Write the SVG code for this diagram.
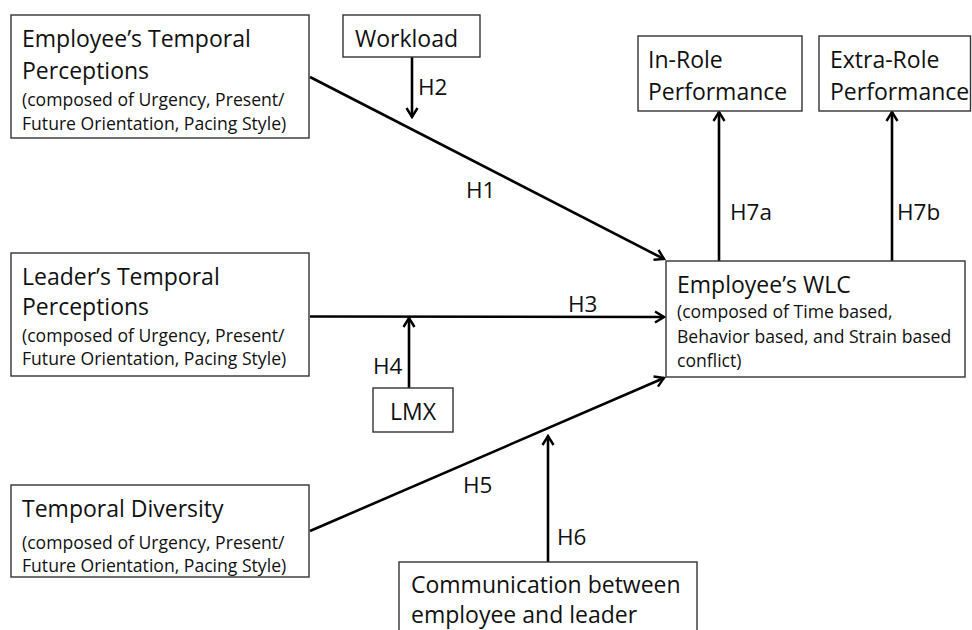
<svg xmlns="http://www.w3.org/2000/svg" width="972" height="630" viewBox="0 0 972 630">
<defs>
<style>
.box{fill:#fff;stroke:#333;stroke-width:1.4}
.big{font-family:"Open Sans","Liberation Sans",sans-serif;font-size:23px;fill:#111}
.small{font-family:"Open Sans","Liberation Sans",sans-serif;font-size:17.6px;fill:#111}
.lbl{font-family:"Open Sans","Liberation Sans",sans-serif;font-size:22.5px;fill:#111}
.conn{stroke:#000;stroke-width:2.6;fill:none;marker-end:url(#arr)}
</style>
<marker id="arr" viewBox="0 0 14 14" refX="12" refY="7" markerWidth="14" markerHeight="14" markerUnits="userSpaceOnUse" orient="auto">
<path d="M3,1.5 L12,7 L3,12.5" fill="none" stroke="#000" stroke-width="2.4"/>
</marker>
</defs>
<rect width="972" height="630" fill="#fff"/>
<g id="connectors">
<line class="conn" x1="310" y1="77" x2="664" y2="259"/>
<line class="conn" x1="412" y1="57" x2="412" y2="117"/>
<line class="conn" x1="310" y1="316.5" x2="664" y2="317"/>
<line class="conn" x1="409" y1="388" x2="409" y2="318"/>
<line class="conn" x1="310" y1="531" x2="664" y2="378"/>
<line class="conn" x1="548" y1="562" x2="548" y2="436"/>
<line class="conn" x1="719" y1="261" x2="719" y2="112"/>
<line class="conn" x1="892" y1="261" x2="892" y2="112"/>
<text class="lbl" x="418" y="95">H2</text>
<text class="lbl" x="466" y="198">H1</text>
<text class="lbl" x="568" y="312">H3</text>
<text class="lbl" x="373" y="374">H4</text>
<text class="lbl" x="463" y="493">H5</text>
<text class="lbl" x="557" y="545">H6</text>
<text class="lbl" x="730" y="220">H7a</text>
<text class="lbl" x="897" y="220">H7b</text>
</g>
<g id="emp-temporal">
<rect class="box" x="11" y="15" width="298" height="123"/>
<text class="big" x="22" y="47">Employee’s Temporal</text>
<text class="big" x="22" y="79">Perceptions</text>
<text class="small" x="22" y="106">(composed of Urgency, Present/</text>
<text class="small" x="22" y="130">Future Orientation, Pacing Style)</text>
</g>
<g id="workload">
<rect class="box" x="343" y="15" width="137" height="42"/>
<text class="big" x="355" y="47">Workload</text>
</g>
<g id="in-role">
<rect class="box" x="638" y="36" width="164" height="75"/>
<text class="big" x="648" y="68">In-Role</text>
<text class="big" x="648" y="100">Performance</text>
</g>
<g id="extra-role">
<rect class="box" x="819" y="36" width="151.5" height="75"/>
<text class="big" x="830" y="68">Extra-Role</text>
<text class="big" x="830" y="100">Performance</text>
</g>
<g id="leader-temporal">
<rect class="box" x="11" y="253" width="298" height="123"/>
<text class="big" x="22" y="285">Leader’s Temporal</text>
<text class="big" x="22" y="315">Perceptions</text>
<text class="small" x="22" y="342">(composed of Urgency, Present/</text>
<text class="small" x="22" y="365">Future Orientation, Pacing Style)</text>
</g>
<g id="lmx">
<rect class="box" x="373" y="388" width="80" height="44"/>
<text class="big" x="390" y="420">LMX</text>
</g>
<g id="wlc">
<rect class="box" x="666" y="261" width="299" height="116"/>
<text class="big" x="677" y="293">Employee’s WLC</text>
<text class="small" x="677" y="318">(composed of Time based,</text>
<text class="small" x="677" y="343">Behavior based, and Strain based</text>
<text class="small" x="677" y="367">conflict)</text>
</g>
<g id="diversity">
<rect class="box" x="11" y="485" width="298" height="92"/>
<text class="big" x="22" y="517">Temporal Diversity</text>
<text class="small" x="22" y="549">(composed of Urgency, Present/</text>
<text class="small" x="22" y="572">Future Orientation, Pacing Style)</text>
</g>
<g id="communication">
<rect class="box" x="399" y="562" width="298" height="80"/>
<text class="big" x="411" y="593">Communication between</text>
<text class="big" x="411" y="623">employee and leader</text>
</g>
</svg>
